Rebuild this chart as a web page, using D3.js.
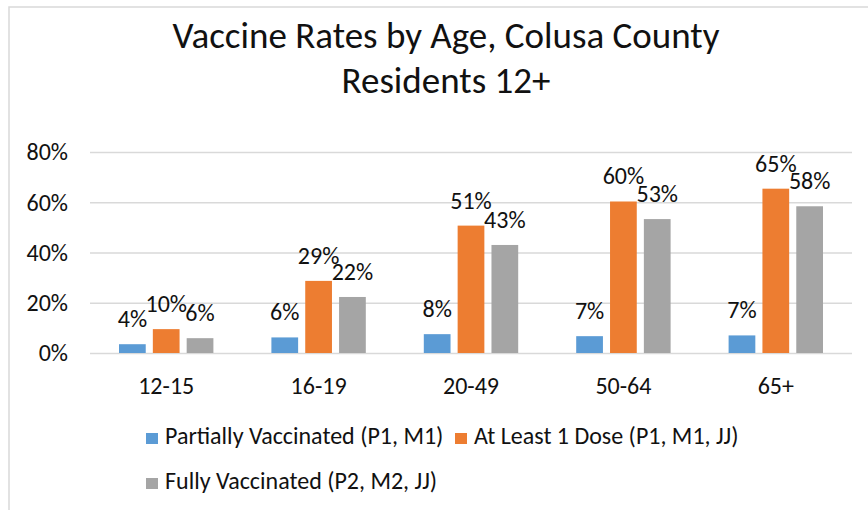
<!DOCTYPE html>
<html>
<head>
<meta charset="utf-8">
<script src="https://cdn.jsdelivr.net/npm/d3@7"></script>
<style>
  body { margin: 0; background: #fff; }
  svg text { font-family: Carlito, Calibri, Lato, sans-serif; fill: #111; }
</style>
</head>
<body>
<div id="chart"></div>
<script>
// chart data
const AGE_GROUPS = ["12-15", "16-19", "20-49", "50-64", "65+"];
const SERIES = ["Partially Vaccinated (P1, M1)", "At Least 1 Dose (P1, M1, JJ)", "Fully Vaccinated (P2, M2, JJ)"];
const PARTIAL = [3.5, 6.2, 7.5, 6.7, 7.0];
const AT_LEAST_ONE = [9.5, 28.7, 50.7, 60.3, 65.4];
const FULLY = [5.9, 22.3, 43.0, 53.3, 58.4];
const Y_TICKS = [0, 20, 40, 60, 80];
const COLORS = ["#5b9bd5", "#ed7d31", "#a5a5a5"];

// frame
const FRAME_WIDTH = 868;
const FRAME_HEIGHT = 510;
const MARGINS = {left: 90, right: 16, top: 152, bottom: 157};

const svg = d3.select("#chart")
  .append("svg")
    .attr("width", FRAME_WIDTH)
    .attr("height", FRAME_HEIGHT);

// chart border
svg.append("rect")
  .attr("x", 9).attr("y", 7)
  .attr("width", FRAME_WIDTH).attr("height", FRAME_HEIGHT)
  .attr("fill", "none")
  .attr("stroke", "#d9d9d9")
  .attr("stroke-width", 1.5);

// title
svg.append("text")
  .attr("x", 446).attr("y", 48)
  .attr("text-anchor", "middle")
  .attr("font-size", 37)
  .text("Vaccine Rates by Age, Colusa County");
svg.append("text")
  .attr("x", 446).attr("y", 93)
  .attr("text-anchor", "middle")
  .attr("font-size", 37)
  .text("Residents 12+");

const table = AGE_GROUPS.map((g, i) => ({
  group: g,
  values: [PARTIAL[i], AT_LEAST_ONE[i], FULLY[i]]
}));

const x0 = d3.scaleBand()
  .domain(AGE_GROUPS)
  .range([MARGINS.left, FRAME_WIDTH - MARGINS.right])
  .padding(0);

const x1 = d3.scaleBand()
  .domain(d3.range(SERIES.length))
  .range([-47.2, 47.2])
  .paddingInner(0.21);

const y = d3.scaleLinear()
  .domain([0, 80])
  .range([FRAME_HEIGHT - MARGINS.bottom, MARGINS.top]);

// gridlines + y labels
const yAxis = svg.append("g")
  .attr("transform", "translate(" + MARGINS.left + ",0)")
  .call(d3.axisLeft(y)
    .tickValues(Y_TICKS)
    .tickSize(-(FRAME_WIDTH - MARGINS.left - MARGINS.right))
    .tickPadding(22)
    .tickFormat(d => d + "%"));
yAxis.select(".domain").remove();
yAxis.selectAll(".tick line")
  .attr("stroke", "#d9d9d9")
  .attr("stroke-width", 1.5);
yAxis.selectAll(".tick text")
  .attr("font-size", 24)
  .attr("dy", "0.33em");

// x labels
const xAxis = svg.append("g")
  .attr("transform", "translate(0," + y(0) + ")")
  .call(d3.axisBottom(x0).tickSize(0).tickPadding(24));
xAxis.select(".domain").remove();
xAxis.selectAll(".tick text")
  .attr("font-size", 24);

// bars
const groups = svg.append("g")
  .selectAll("g")
  .data(table)
  .enter()
  .append("g")
    .attr("transform", d => "translate(" + (x0(d.group) + x0.bandwidth() / 2) + ",0)");

groups.selectAll("rect")
  .data(d => d.values)
  .enter()
  .append("rect")
    .attr("x", (d, i) => x1(i))
    .attr("y", d => y(d))
    .attr("width", x1.bandwidth())
    .attr("height", d => y(0) - y(d))
    .attr("fill", (d, i) => COLORS[i]);

// value labels
groups.selectAll("text.val")
  .data(d => d.values)
  .enter()
  .append("text")
    .attr("class", "val")
    .attr("x", (d, i) => x1(i) + x1.bandwidth() / 2)
    .attr("y", d => y(d) - 17)
    .attr("text-anchor", "middle")
    .attr("font-size", 24)
    .text(d => Math.round(d) + "%");

// legend
const LEGEND_POS = [[146, 444], [455, 444], [146, 489]];
const legend = svg.append("g")
  .selectAll("g")
  .data(SERIES)
  .enter()
  .append("g")
    .attr("transform", (d, i) => "translate(" + LEGEND_POS[i][0] + "," + LEGEND_POS[i][1] + ")");
legend.append("rect")
  .attr("x", 0).attr("y", -11)
  .attr("width", 12).attr("height", 11)
  .attr("fill", (d, i) => COLORS[i]);
legend.append("text")
  .attr("x", 19).attr("y", 0)
  .attr("font-size", 24)
  .text(d => d);
</script>
</body>
</html>
